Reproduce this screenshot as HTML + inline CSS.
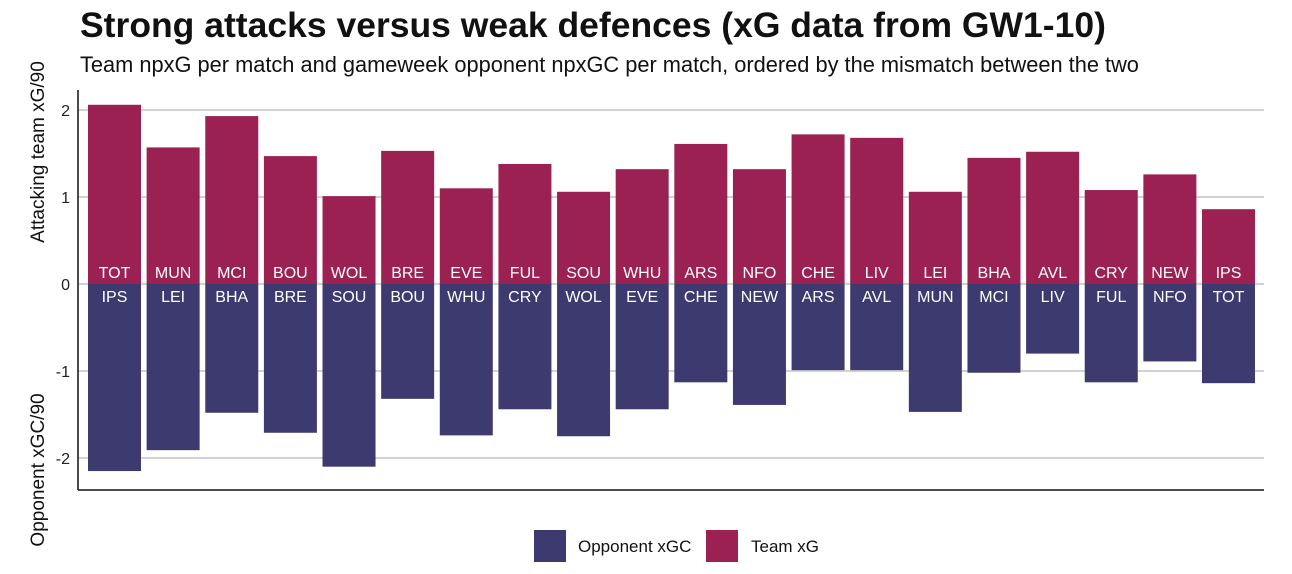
<!DOCTYPE html>
<html><head><meta charset="utf-8"><style>
body{margin:0;background:#fff;font-family:"Liberation Sans",Arial,sans-serif;}
#wrap{position:relative;width:1292px;height:574px;overflow:hidden;}
</style></head><body>
<div id="wrap">
<svg id="svg" width="1292" height="574" xmlns="http://www.w3.org/2000/svg">
<text x="80" y="37" font-size="35.5" font-weight="bold" fill="#111">Strong attacks versus weak defences (xG data from GW1-10)</text>
<text x="80" y="72" font-size="21.8" fill="#111">Team npxG per match and gameweek opponent npxGC per match, ordered by the mismatch between the two</text>
<text transform="translate(44,152) rotate(-90)" text-anchor="middle" font-size="19" fill="#111">Attacking team xG/90</text>
<text transform="translate(44,470) rotate(-90)" text-anchor="middle" font-size="19" fill="#111">Opponent xGC/90</text>
<g id="grid"></g><g id="bars"></g>
<line x1="78" y1="90" x2="78" y2="490" stroke="#111" stroke-width="1.5"/>
<line x1="78" y1="490" x2="1264" y2="490" stroke="#111" stroke-width="1.5"/>
<g>
<rect x="534" y="530" width="32" height="32" fill="#3c3a6f"/>
<text x="578" y="552" font-size="17" fill="#111">Opponent xGC</text>
<rect x="706" y="530" width="32" height="32" fill="#9b2153"/>
<text x="751" y="552" font-size="17" fill="#111">Team xG</text>
</g>
</svg>
</div>
<script>
const teams=["TOT","MUN","MCI","BOU","WOL","BRE","EVE","FUL","SOU","WHU","ARS","NFO","CHE","LIV","LEI","BHA","AVL","CRY","NEW","IPS"];
const opponents=["IPS","LEI","BHA","BRE","SOU","BOU","WHU","CRY","WOL","EVE","CHE","NEW","ARS","AVL","MUN","MCI","LIV","FUL","NFO","TOT"];
const teamXG=[2.06,1.57,1.93,1.47,1.01,1.53,1.10,1.38,1.06,1.32,1.61,1.32,1.72,1.68,1.06,1.45,1.52,1.08,1.26,0.86];
const oppXGC=[2.15,1.91,1.48,1.71,2.10,1.32,1.74,1.44,1.75,1.44,1.13,1.39,0.99,0.99,1.47,1.02,0.80,1.13,0.89,1.14];
const yTicks=[2,1,0,-1,-2];
const tickLabels=["2","1","0","-1","-2"];
const NS="http://www.w3.org/2000/svg";
const y=v=>284-v*87;
const step=(1202-88)/(teams.length-1);
const x=i=>88+i*step;
const bw=53;
const grid=document.getElementById('grid'),bars=document.getElementById('bars');
function mk(tag,at,par){const e=document.createElementNS(NS,tag);for(const k in at)e.setAttribute(k,at[k]);par.appendChild(e);return e;}
yTicks.forEach((t,i)=>{
 const l=mk('line',{x1:78,x2:1264,y1:y(t),y2:y(t),stroke:'#c4c4c4','stroke-width':1.5},grid);
 
 
 const tx=mk('text',{x:70,y:y(t)+6,'text-anchor':'end','font-size':16,fill:'#222'},grid);
 tx.textContent=tickLabels[i];
 
 
});
teams.forEach((t,i)=>{
 const r=mk('rect',{x:x(i),y:y(teamXG[i]),width:bw,height:y(0)-y(teamXG[i]),fill:'#9b2153'},bars);
 
 
 const o=mk('rect',{x:x(i),y:y(0),width:bw,height:y(-oppXGC[i])-y(0),fill:'#3c3a6f'},bars);
 
 
 const a=mk('text',{x:x(i)+bw/2,y:278,'text-anchor':'middle','font-size':16,fill:'#fff'},bars);
 a.textContent=t;
 
 
 const b=mk('text',{x:x(i)+bw/2,y:302,'text-anchor':'middle','font-size':16,fill:'#fff'},bars);
 b.textContent=opponents[i];
 
 
});
</script>
</body></html>
